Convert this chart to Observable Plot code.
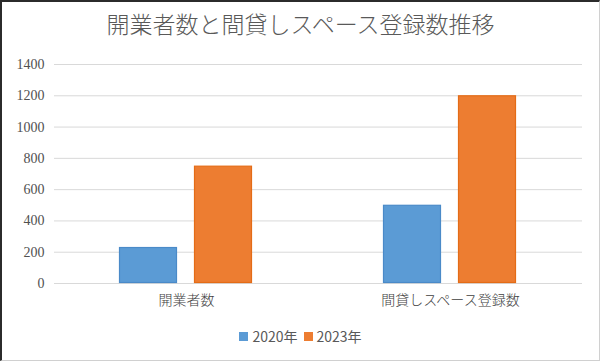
<!DOCTYPE html>
<html>
<head>
<meta charset="utf-8">
<script src="https://cdn.jsdelivr.net/npm/d3@7"></script>
<script src="https://cdn.jsdelivr.net/npm/@observablehq/plot@0.6"></script>
<style>
  html, body { margin: 0; padding: 0; background: #fff; }
  #frame {
    width: 600px; height: 361px; box-sizing: border-box;
    border-left: 2px solid #2b2b2b; border-top: 2px solid #2b2b2b;
    border-right: 1px solid #d0d0d0; border-bottom: 1px solid #d0d0d0;
    background: #fff; overflow: hidden;
  }
  #title {
    height: 44px; box-sizing: border-box; padding-top: 6px;
    text-align: center; font-family: "Noto Sans CJK JP", sans-serif;
    font-weight: 300; font-size: 23px; line-height: 30px; color: #595959;
  }
  #legend {
    display: flex; justify-content: center; align-items: center; gap: 6px;
    margin-top: 8px;
    font-family: "Noto Sans CJK JP", "Liberation Sans", sans-serif;
    font-size: 14px; color: #595959;
  }
  #legend .item { display: flex; align-items: center; gap: 4px; }
  #legend .sw { width: 9px; height: 9px; display: inline-block; }
  #chart g[aria-label="y-axis tick label"] text {
    font-family: "Liberation Serif", "DejaVu Serif", serif !important;
  }
  #chart g[aria-label="fx-axis tick label"] text {
    font-family: "Noto Sans CJK JP", sans-serif !important; font-weight: 300;
  }
</style>
</head>
<body>
<div id="frame">
  <div id="title"></div>
  <div id="chart"></div>
  <div id="legend"></div>
</div>
<script>
const titleText = "開業者数と間貸しスペース登録数推移";
const categories = ["開業者数", "間貸しスペース登録数"];
const years = ["2020年", "2023年"];
const values2020 = [230, 500];
const values2023 = [750, 1200];
const yTicks = [0, 200, 400, 600, 800, 1000, 1200, 1400];
const fills = ["#5B9BD5", "#ED7D31"];
const strokes = ["#4A8AC8", "#E46C16"];

document.getElementById("title").textContent = titleText;

const data = [];
categories.forEach((c, i) => {
  data.push({cat: c, year: years[0], value: values2020[i]});
  data.push({cat: c, year: years[1], value: values2023[i]});
});

const chart = Plot.plot({
  width: 597,
  height: 272,
  marginLeft: 51,
  marginRight: 17,
  marginTop: 18,
  marginBottom: 35,
  style: {fontFamily: "'Noto Sans CJK JP', sans-serif", fontSize: "13px", color: "#595959", background: "#fff"},
  fx: {domain: categories, padding: 0, label: null},
  x: {domain: years, paddingInner: 0.224, paddingOuter: 0.852, axis: null},
  y: {domain: [0, 1400], label: null},
  color: {domain: years, range: fills},
  marks: [
    Plot.gridY(yTicks, {stroke: "#d9d9d9", strokeOpacity: 1, strokeWidth: 1}),
    Plot.axisY(yTicks, {tickSize: 0, tickPadding: 10, fontSize: 14, fill: "#505050", label: null,
      tickFormat: d => String(d)}),
    Plot.axisFx({anchor: "bottom", tickSize: 0, tickPadding: 12, fontSize: 14, fill: "#404040", label: null}),
    Plot.barY(data, {fx: "cat", x: "year", y: "value", fill: "year",
      stroke: d => strokes[years.indexOf(d.year)], strokeWidth: 1.2, inset: 0.5})
  ]
});
document.getElementById("chart").appendChild(chart);

const legend = document.getElementById("legend");
years.forEach((y, i) => {
  const item = document.createElement("span");
  item.className = "item";
  const sw = document.createElement("span");
  sw.className = "sw";
  sw.style.background = fills[i];
  const t = document.createElement("span");
  t.textContent = y;
  item.appendChild(sw);
  item.appendChild(t);
  legend.appendChild(item);
});
</script>
</body>
</html>
